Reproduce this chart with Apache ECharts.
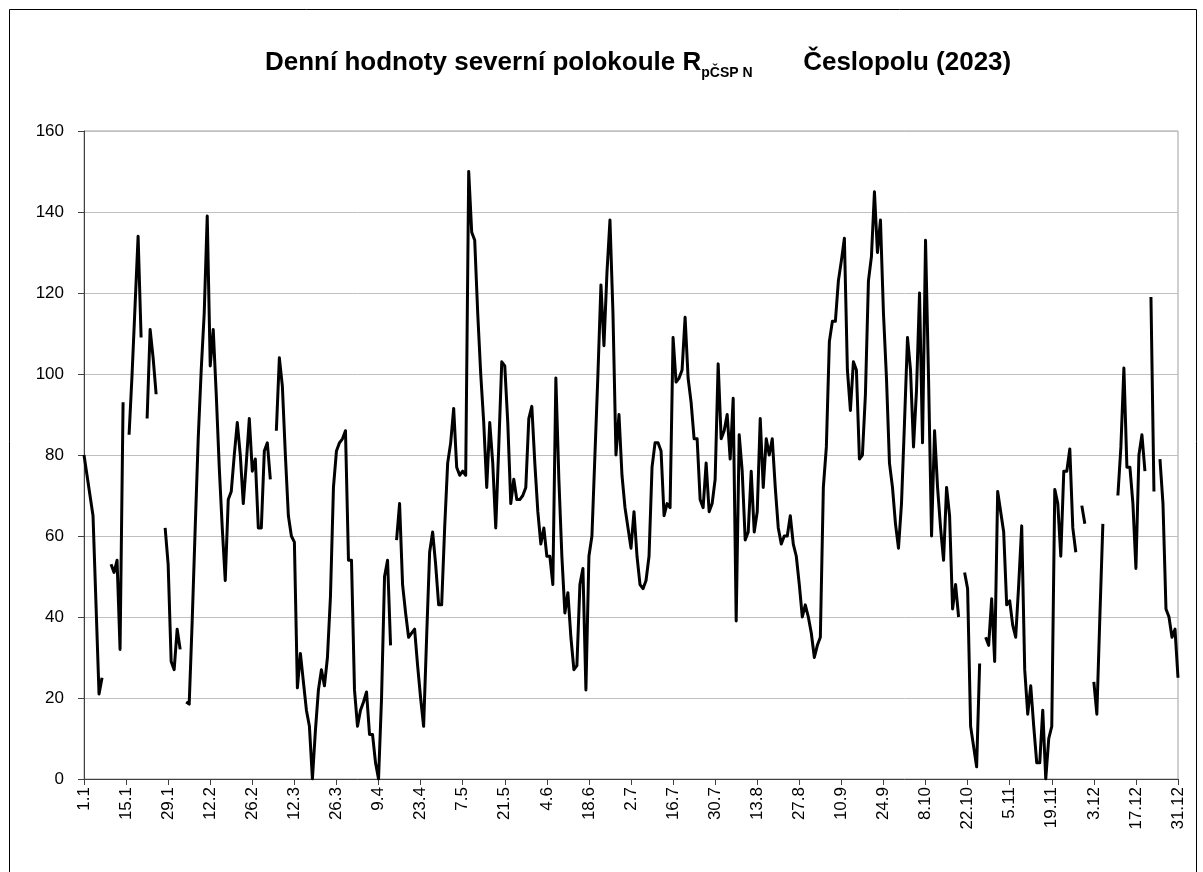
<!DOCTYPE html>
<html>
<head>
<meta charset="utf-8">
<script src="https://cdn.jsdelivr.net/npm/echarts@6/dist/echarts.min.js"></script>
<style>
html, body { margin: 0; padding: 0; background: #fff; }
#graf { width: 1203px; height: 872px; }
</style>
</head>
<body>
<div id="graf"></div>
<script>
// denní hodnoty po měsících (null = den bez pozorování)
var leden = [80, 75, 70, 65, 43, 21, 25, null, null, 53, 51, 54, 32, 93, null, 85, 100, 117, 134, 109, null, 89, 111, 104, 95, null, null, 62, 53, 29, 27];
var unor = [37, 32, null, 19, 18.5, 39, 62, 84, 101, 115, 139, 102, 111, 95, 77, 62, 49, 69, 71, 80, 88, 80, 68, 78, 89, 76, 79, 62];
var brezen = [62, 81, 83, 74, null, 86, 104, 97, 80, 65, 60, 58.5, 22.5, 31, 24, 17, 13, 0, 12, 22, 27, 23, 30, 45, 72, 81, 83, 84, 86, 54, 54];
var duben = [22, 13, 17, 19, 21.5, 11, 11, 4, 0, 20, 50, 54, 33, null, 59, 68, 48, 41, 35, 36, 37, 28, 20, 13, 35, 56, 61, 53, 43, 43];
var kveten = [62, 78, 83, 91.5, 77, 75, 76, 75, 150, 135, 133, 115, 100, 88, 72, 88, 78, 62, 82, 103, 102, 88, 68, 74, 69, 69, 70, 72, 89, 92, 78];
var cerven = [66, 58, 62, 55, 55, 48, 99, 74, 55, 41, 46, 35, 27, 28, 48, 52, 22, 55, 60, 80, 100, 122, 107, 125, 138, 115, 80, 90, 75, 67];
var cervenec = [62, 57, 66, 55, 48, 47, 49, 55, 77, 83, 83, 81, 65, 68, 67, 109, 98, 99, 101, 114, 99, 93, 84, 84, 69, 67, 78, 66, 68, 74, 102.5];
var srpen = [84, 86, 90, 79, 94, 39, 85, 76, 59, 61, 76, 61, 66, 89, 72, 84, 80, 84, 72, 62, 58, 60, 60, 65, 58, 55, 48, 40, 43, 40, 36];
var zari = [30, 33, 35, 72, 82, 108, 113, 113, 123, 128, 133.5, 101, 91, 103, 101, 79, 80, 95, 123, 129, 145, 130, 138, 115, 99, 78, 72, 63, 57, 68];
var rijen = [88, 109, 101, 82, 96, 120, 83, 133, 99, 60, 86, 72, 62, 54, 72, 65, 42, 48, 40, null, 51, 47, 13, 8, 3, 28.5, null, 35, 33, 44.5, 29];
var listopad = [71, 66, 61, 43, 44, 38, 35, 48, 62.5, 27, 16, 23, 13, 4, 4, 17, 0, 10, 13, 71.5, 68, 55, 76, 76, 81.5, 62, 56, null, 67.5, 63];
var prosinec = [null, null, 24, 16, 40, 63, null, null, null, null, 70, 82, 101.5, 77, 77, 68, 52, 80, 85, 76, null, 119, 71, null, 79, 68, 42, 40, 35, 37, 25];

var mesice = [leden, unor, brezen, duben, kveten, cerven, cervenec, srpen, zari, rijen, listopad, prosinec];
var hodnoty = [].concat.apply([], mesice);

// popisky osy x ve tvaru den.měsíc
var dny = [];
mesice.forEach(function(m, i) {
    for (var d = 1; d <= m.length; d++) {
        dny.push(d + '.' + (i + 1));
    }
});

// osa y
var osaMin = 0;
var osaMax = 160;
var osaKrok = 20;

var pismo = '"Liberation Sans", Arial, sans-serif';

var myChart = echarts.init(document.getElementById('graf'));

var option = {
    backgroundColor: '#fff',
    animation: false,
    title: {
        text: '{a|Denní hodnoty severní polokoule R}{b|pČSP N}{a|       Česlopolu (2023)}',
        left: 260,
        top: 45,
        textStyle: {
            rich: {
                a: {
                    fontFamily: pismo,
                    fontWeight: 'bold',
                    fontSize: 26,
                    color: '#000',
                    lineHeight: 26,
                    verticalAlign: 'top'
                },
                b: {
                    fontFamily: pismo,
                    fontWeight: 'bold',
                    fontSize: 14,
                    color: '#000',
                    lineHeight: 46,
                    verticalAlign: 'middle'
                }
            }
        }
    },
    graphic: [{
        type: 'rect',
        shape: { x: 9.5, y: 9.5, width: 1187, height: 870 },
        style: { fill: 'none', stroke: '#000', lineWidth: 1 },
        silent: true
    }],
    grid: {
        left: 84,
        right: 25,
        top: 131,
        bottom: 93,
        show: true,
        borderColor: '#a0a0a0',
        borderWidth: 1
    },
    xAxis: {
        type: 'category',
        data: dny,
        boundaryGap: false,
        axisLine: { lineStyle: { color: '#404040', width: 1 } },
        axisTick: { interval: 13, length: 6, lineStyle: { color: '#404040' } },
        axisLabel: {
            interval: 13,
            rotate: 90,
            margin: 8,
            fontFamily: pismo,
            fontSize: 17,
            color: '#000'
        },
        splitLine: { show: false }
    },
    yAxis: {
        type: 'value',
        min: osaMin,
        max: osaMax,
        interval: osaKrok,
        axisLine: { show: true, lineStyle: { color: '#404040', width: 1 } },
        axisTick: { show: true, length: 6, lineStyle: { color: '#404040' } },
        axisLabel: {
            margin: 20,
            fontFamily: pismo,
            fontSize: 17,
            color: '#000'
        },
        splitLine: { lineStyle: { color: '#c0c0c0', width: 1 } }
    },
    series: [{
        name: 'R',
        type: 'line',
        data: hodnoty,
        symbol: 'none',
        connectNulls: false,
        lineStyle: { color: '#000', width: 3, join: 'round' }
    }]
};

myChart.setOption(option);
</script>
</body>
</html>
